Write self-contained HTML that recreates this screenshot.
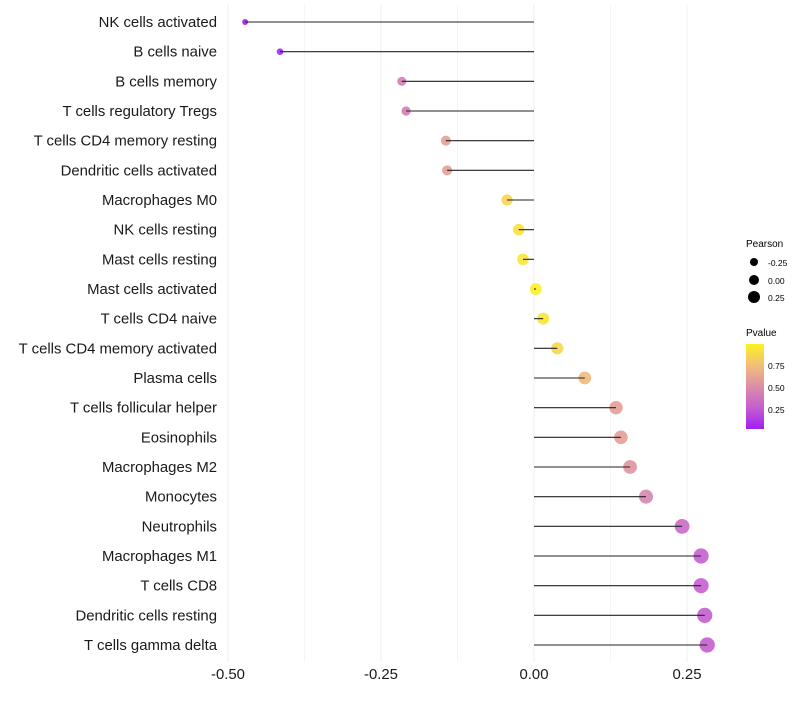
<!DOCTYPE html>
<html><head><meta charset="utf-8"><style>
body{margin:0;background:#fff;font-family:"Liberation Sans",sans-serif}
</style></head><body>
<svg id="chart" width="800" height="700" xmlns="http://www.w3.org/2000/svg">
<defs><linearGradient id="pg" x1="0" y1="1" x2="0" y2="0">
<stop offset="0" stop-color="#a21ef2"/><stop offset="0.25" stop-color="#c45ed0"/><stop offset="0.5" stop-color="#dc8ea8"/><stop offset="0.75" stop-color="#f2bf78"/><stop offset="1" stop-color="#fbf21e"/></linearGradient></defs>
<g id="grid"></g>
<g id="marks"></g>
<g id="axes"></g>
<g font-size="10" fill="#000">
<text x="746" y="247">Pearson</text>
<circle cx="754" cy="262" r="4"/><text x="768" y="266" font-size="8.5">-0.25</text>
<circle cx="754" cy="280" r="5"/><text x="768" y="284" font-size="8.5">0.00</text>
<circle cx="754" cy="297" r="6"/><text x="768" y="301" font-size="8.5">0.25</text>
<text x="746" y="336">Pvalue</text>
<rect x="746" y="344" width="18" height="85" fill="url(#pg)"/>
<text x="768" y="369" font-size="8.5">0.75</text>
<text x="768" y="391" font-size="8.5">0.50</text>
<text x="768" y="413" font-size="8.5">0.25</text>
</g>
</svg>
<script>
const categories=["NK cells activated","B cells naive","B cells memory","T cells regulatory  Tregs","T cells CD4 memory resting","Dendritic cells activated","Macrophages M0","NK cells resting","Mast cells resting","Mast cells activated","T cells CD4 naive","T cells CD4 memory activated","Plasma cells","T cells follicular helper","Eosinophils","Macrophages M2","Monocytes","Neutrophils","Macrophages M1","T cells CD8","Dendritic cells resting","T cells gamma delta"];
const pearson=[-0.472,-0.415,-0.216,-0.209,-0.144,-0.142,-0.044,-0.025,-0.018,0.003,0.015,0.038,0.083,0.134,0.142,0.157,0.183,0.242,0.273,0.273,0.279,0.283];
const pvalue=[0.03,0.06,0.43,0.43,0.6,0.6,0.86,0.92,0.94,0.99,0.95,0.87,0.74,0.6,0.6,0.55,0.47,0.33,0.28,0.28,0.27,0.27];
const xTicks=[-0.5,-0.25,0,0.25];
const xTickLabels=["-0.50","-0.25","0.00","0.25"];
const NS="http://www.w3.org/2000/svg";
const x=v=>534+v*612;
const y=i=>22+i*29.667;
const stops=[[0,[162,30,242]],[0.25,[196,94,208]],[0.5,[220,142,168]],[0.75,[242,191,120]],[1,[251,242,30]]];
function col(p){const t=Math.max(0,Math.min(1,(p-0.03)/0.97));for(let k=1;k<stops.length;k++){if(t<=stops[k][0]){const a=stops[k-1],b=stops[k],f=(t-a[0])/(b[0]-a[0]);return "rgb("+a[1].map((c,j)=>Math.round(c+(b[1][j]-c)*f)).join(",")+")";}}return "rgb(251,242,30)";}
const rad=v=>Math.max(2,5.9+6.2*v);
function mk(tag,at,parent){const e=document.createElementNS(NS,tag);for(const k in at)e.setAttribute(k,at[k]);parent.appendChild(e);return e;}
const grid=document.getElementById("grid"),marks=document.getElementById("marks"),axes=document.getElementById("axes");
for(let v=-0.5;v<=0.3;v+=0.125){const g=mk("line",{x1:x(v),x2:x(v),y1:5,y2:662,stroke:"#ebebeb","stroke-width":(Math.abs((v*4)%1)<1e-6)?0.8:0.5},grid);

}
categories.forEach((c,i)=>{
const pt=mk("circle",{cx:x(pearson[i]),cy:y(i),r:rad(pearson[i]),fill:col(pvalue[i]),"fill-opacity":0.9},marks);


const ln=mk("line",{x1:x(0),x2:x(pearson[i]),y1:y(i),y2:y(i),stroke:"#222","stroke-width":1.1},marks);


const t=mk("text",{x:217,y:y(i)+5,"text-anchor":"end","font-size":14.9,fill:"#1a1a1a"},axes);
t.textContent=c;


});
xTicks.forEach((v,i)=>{const t=mk("text",{x:x(v),y:679,"text-anchor":"middle","font-size":14.9,fill:"#1a1a1a"},axes);
t.textContent=xTickLabels[i];

});
</script>
</body></html>
